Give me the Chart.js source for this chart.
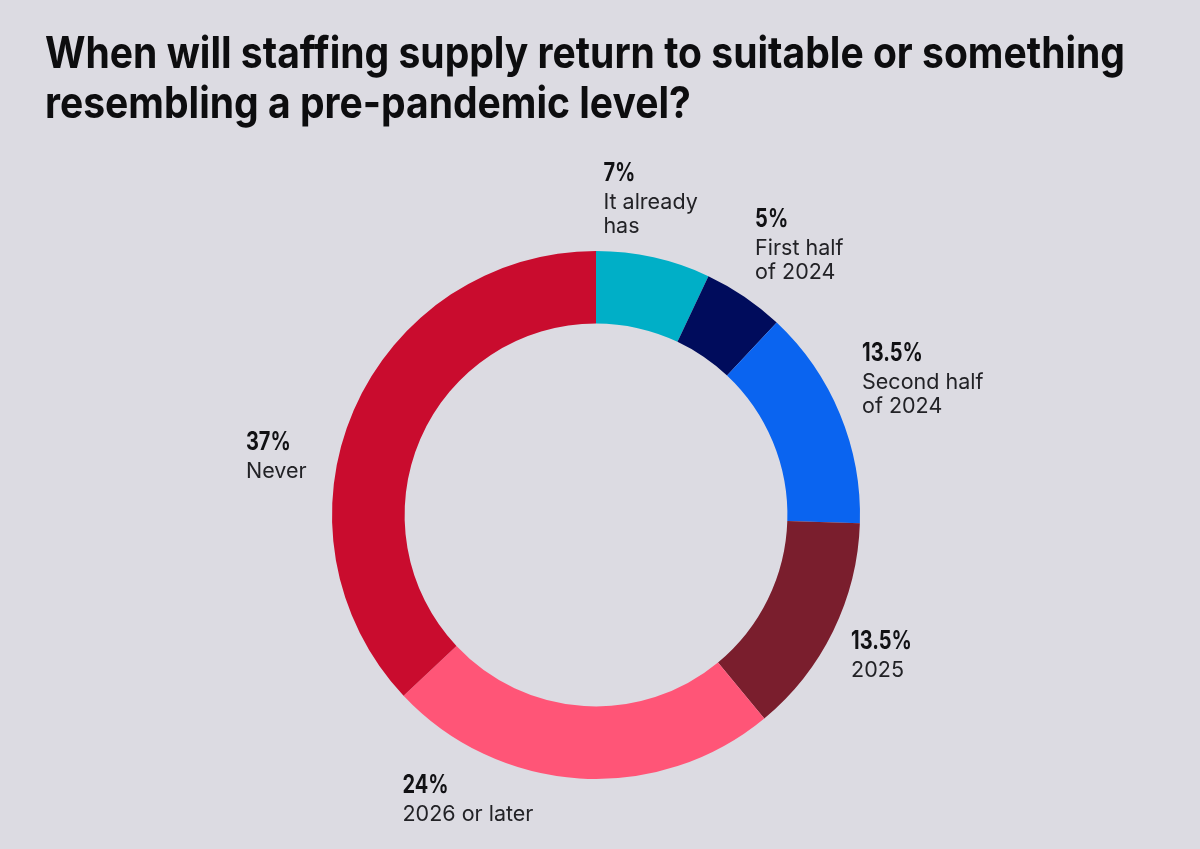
<!DOCTYPE html>
<html>
<head>
<meta charset="utf-8">
<script src="https://cdn.jsdelivr.net/npm/chart.js@4.4.1/dist/chart.umd.min.js"></script>
<style>
  html, body { margin: 0; padding: 0; background: #dcdbe2; }
  #wrap { width: 1200px; height: 849px; position: relative; }
</style>
</head>
<body>
<div id="wrap"><canvas id="chart"></canvas></div>
<script>
const titleLines = ['When will staffing supply return to suitable or something', 'resembling a pre-pandemic level?'];
const categories = ['It already has', 'First half of 2024', 'Second half of 2024', '2025', '2026 or later', 'Never'];
const values = [7, 5, 13.5, 13.5, 24, 37];
const labelLines = [['It already', 'has'], ['First half', 'of 2024'], ['Second half', 'of 2024'], ['2025'], ['2026 or later'], ['Never']];
const colors = ['#00afc7', '#000c5c', '#0a64f0', '#7a1e2d', '#ff5577', '#c90c2e'];

// hand-tuned label shifts from the radial anchor
const labelNudge = [[-15, -6], [24, -7], [32, -15], [-1, -1], [-108, -35], [-27, 67]];

const titlePlugin = {
  id: 'title',
  beforeDraw(chart) {
    const { ctx } = chart;
    ctx.save();
    ctx.font = 'bold 44px Inter, sans-serif';
    ctx.fillStyle = '#0d0d0f';
    ctx.textBaseline = 'alphabetic';
    const sx = 1080 / ctx.measureText(titleLines[0]).width;
    ctx.translate(45, 0);
    ctx.scale(sx, 1);
    ctx.fillText(titleLines[0], 0, 68);
    ctx.fillText(titleLines[1], 0, 118);
    ctx.restore();
  },
};

const labelPlugin = {
  id: 'sliceLabels',
  afterDraw(chart) {
    const { ctx } = chart;
    const meta = chart.getDatasetMeta(0);
    const pctFont = 'bold 25px Inter, sans-serif';
    const txtFont = '21.5px Inter, sans-serif';
    const pctScale = 0.8;
    meta.data.forEach((arc, i) => {
      const { x, y, startAngle, endAngle, outerRadius } = arc.getProps(['x', 'y', 'startAngle', 'endAngle', 'outerRadius'], true);
      const mid = (startAngle + endAngle) / 2;
      const r = outerRadius + 55;
      const ax = x + Math.cos(mid) * r + labelNudge[i][0];
      const ay = y + Math.sin(mid) * r + labelNudge[i][1];

      const pct = `${values[i]}%`;
      ctx.save();
      ctx.font = pctFont;
      let w = ctx.measureText(pct).width * pctScale;
      ctx.font = txtFont;
      labelLines[i].forEach(l => { w = Math.max(w, ctx.measureText(l).width); });
      const cap = 18;
      const h = cap + 28 + 24 * (labelLines[i].length - 1);
      const left = ax - w / 2;
      const base = ay - h / 2 + cap;

      ctx.textBaseline = 'alphabetic';
      ctx.textAlign = 'left';
      ctx.fillStyle = '#111114';
      ctx.font = pctFont;
      ctx.save();
      ctx.translate(left, base);
      ctx.scale(pctScale, 1);
      ctx.fillText(pct, 0, 0);
      ctx.restore();

      ctx.fillStyle = '#222226';
      ctx.font = txtFont;
      labelLines[i].forEach((l, j) => ctx.fillText(l, left, base + 28 + 24 * j));
      ctx.restore();
    });
  },
};

new Chart(document.getElementById('chart'), {
  type: 'doughnut',
  data: {
    labels: categories,
    datasets: [{
      data: values,
      backgroundColor: colors,
      borderWidth: 0,
      hoverOffset: 0,
      offset: 0,
    }],
  },
  options: {
    responsive: true,
    maintainAspectRatio: false,
    animation: false,
    cutout: '72.5%',
    layout: { padding: { top: 251, bottom: 70, left: 332, right: 340 } },
    plugins: { legend: { display: false }, tooltip: { enabled: false }, title: { display: false } },
    events: [],
  },
  plugins: [titlePlugin, labelPlugin],
});
</script>
</body>
</html>
